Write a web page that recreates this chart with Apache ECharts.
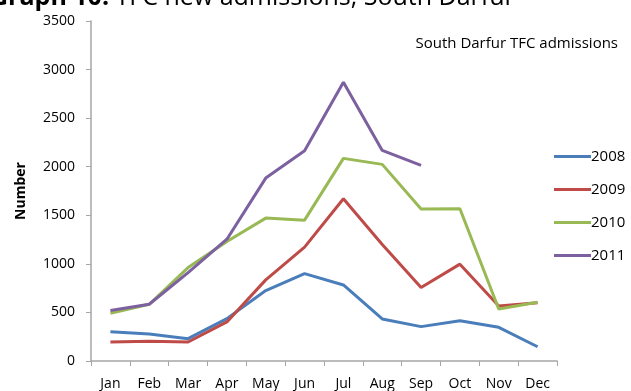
<!DOCTYPE html>
<html>
<head>
<meta charset="utf-8">
<script src="https://cdn.jsdelivr.net/npm/echarts@6/dist/echarts.min.js"></script>
<style>
  html, body { margin: 0; padding: 0; background: #fff; }
  #chart { width: 631px; height: 391px; }
</style>
</head>
<body>
<div id="chart"></div>
<script>
// Monthly TFC admissions in South Darfur, by year
const months = ['Jan', 'Feb', 'Mar', 'Apr', 'May', 'Jun', 'Jul', 'Aug', 'Sep', 'Oct', 'Nov', 'Dec'];
const years = ['2008', '2009', '2010', '2011'];
const adm2008 = [302, 278, 230, 436, 725, 900, 783, 433, 354, 415, 347, 147];
const adm2009 = [196, 203, 196, 402, 835, 1172, 1670, 1200, 756, 997, 567, 600];
const adm2010 = [492, 584, 962, 1230, 1471, 1450, 2086, 2024, 1564, 1567, 536, 605];
const adm2011 = [519, 584, 910, 1254, 1883, 2165, 2869, 2168, 2013, null, null, null];
const yTicks = [0, 500, 1000, 1500, 2000, 2500, 3000, 3500];

const colors = ['#4a7ebb', '#be4b48', '#98b954', '#7d60a0'];
const seriesData = [adm2008, adm2009, adm2010, adm2011];
const font = 'Open Sans, Noto Sans, sans-serif';

const chart = echarts.init(document.getElementById('chart'), null, { renderer: 'canvas' });

chart.setOption({
  animation: false,
  backgroundColor: '#ffffff',
  color: colors,
  textStyle: { fontFamily: font },
  grid: { left: 91, right: 74, top: 21, bottom: 30, containLabel: false },
  title: [
    {
      text: '{b|Graph 10:} TFC new admissions, South Darfur',
      left: -10, top: -15, padding: 0,
      textStyle: {
        fontFamily: font, fontSize: 25, color: '#000', fontWeight: 'normal',
        rich: { b: { fontFamily: font, fontSize: 25, fontWeight: 'bold', color: '#000' } }
      }
    },
    {
      text: 'South Darfur TFC admissions',
      right: 8, top: 31,
      textStyle: { fontFamily: font, fontSize: 15, color: '#000', fontWeight: 'normal' }
    }
  ],
  legend: {
    orient: 'vertical',
    left: 549, top: 144,
    itemWidth: 37, itemHeight: 3, itemGap: 18,
    icon: 'rect',
    textStyle: { fontFamily: font, fontSize: 15, color: '#000', padding: [0, 0, 0, -5] },
    data: years
  },
  xAxis: {
    type: 'category',
    data: months,
    boundaryGap: true,
    axisLine: { lineStyle: { color: '#a6a6a6', width: 1.5 } },
    axisTick: { show: true, length: 5, lineStyle: { color: '#a6a6a6' } },
    axisLabel: { color: '#000', fontFamily: font, fontSize: 14, margin: 16, interval: 0 }
  },
  yAxis: {
    type: 'value',
    min: yTicks[0], max: yTicks[yTicks.length - 1], interval: 500,
    name: 'Number',
    nameLocation: 'middle',
    nameGap: 63,
    nameTextStyle: { fontFamily: font, fontSize: 14, fontWeight: 'bold', color: '#000' },
    axisLine: { show: true, lineStyle: { color: '#a6a6a6', width: 1.5 } },
    axisTick: { show: true, length: 5, lineStyle: { color: '#a6a6a6' } },
    splitLine: { show: false },
    axisLabel: { color: '#000', fontFamily: font, fontSize: 14, margin: 16, formatter: v => String(v) }
  },
  series: years.map((y, i) => ({
    name: y,
    type: 'line',
    data: seriesData[i],
    showSymbol: false,
    symbol: 'none',
    lineStyle: { width: 3, color: colors[i] },
    itemStyle: { color: colors[i] }
  }))
});
</script>
</body>
</html>
